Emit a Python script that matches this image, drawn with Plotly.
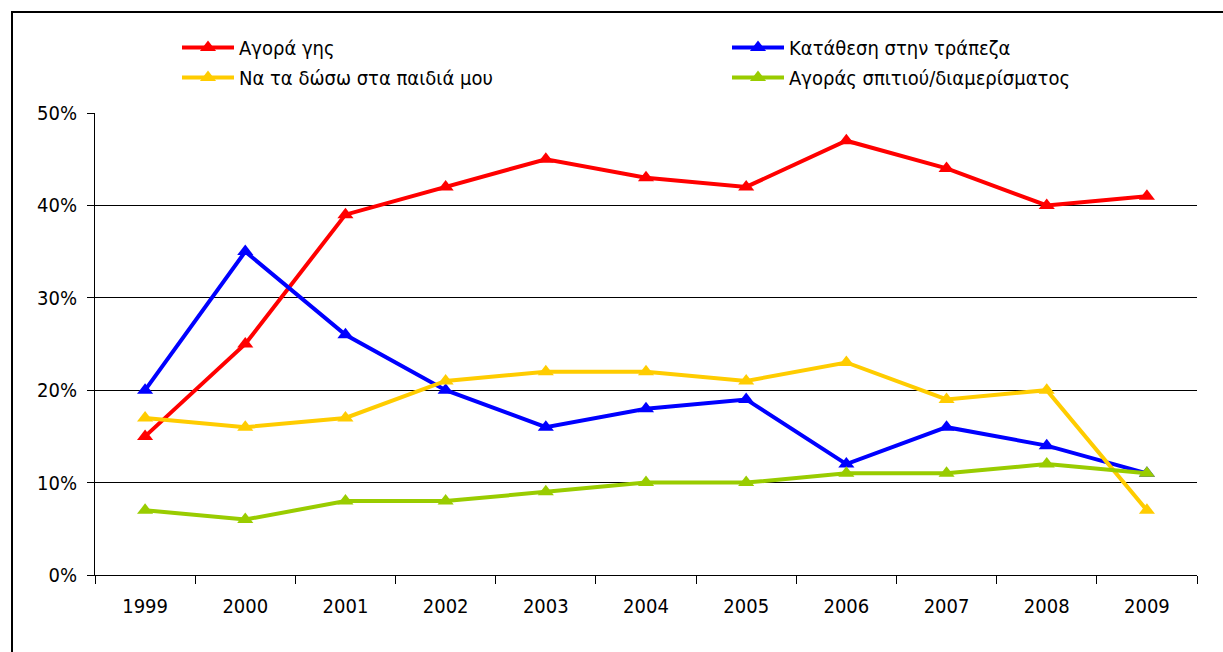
import plotly.graph_objects as go

years = ["1999", "2000", "2001", "2002", "2003", "2004", "2005", "2006", "2007", "2008", "2009"]

land = [15, 25, 39, 42, 45, 43, 42, 47, 44, 40, 41]
bank = [20, 35, 26, 20, 16, 18, 19, 12, 16, 14, 11]
children = [17, 16, 17, 21, 22, 22, 21, 23, 19, 20, 7]
house = [7, 6, 8, 8, 9, 10, 10, 11, 11, 12, 11]

series = [
    ("Αγορά γης", land, "#FF0000", "legend"),
    ("Κατάθεση στην τράπεζα", bank, "#0000FF", "legend2"),
    ("Να τα δώσω στα παιδιά μου", children, "#FFCC00", "legend"),
    ("Αγοράς σπιτιού/διαμερίσματος", house, "#99CC00", "legend2"),
]

fig = go.Figure()
for name, vals, color, leg in series:
    fig.add_trace(go.Scatter(
        x=years, y=[v / 100 for v in vals], name=name, mode="lines+markers",
        line=dict(color=color, width=4),
        marker=dict(symbol="triangle-up", size=14, color=color),
        legend=leg, legendgroup=name,
    ))

font = dict(family="DejaVu Sans Condensed, DejaVu Sans", size=20, color="black")
leg_style = dict(orientation="v", yanchor="top", xanchor="left", bgcolor="rgba(0,0,0,0)",
                 font=font, itemwidth=52, tracegroupgap=1, itemclick=False)

fig.update_layout(
    width=1223, height=652,
    margin=dict(l=95, r=26, t=113, b=77),
    paper_bgcolor="white", plot_bgcolor="white",
    font=font,
    showlegend=True,
    legend=dict(x=(177 - 95) / 1102, y=(575 - 28) / 462, **leg_style),
    legend2=dict(x=(727 - 95) / 1102, y=(575 - 28) / 462, **leg_style),
    xaxis=dict(
        type="category", range=[-0.5, 10.5], tickson="boundaries",
        ticks="outside", ticklen=8, tickcolor="black", tickwidth=1,
        showline=True, linecolor="black", linewidth=1, showgrid=False,
        ticklabelstandoff=13, tickfont=font,
    ),
    yaxis=dict(
        range=[0, 0.5], dtick=0.1, tickformat=".0%",
        ticks="outside", ticklen=7, tickcolor="black", tickwidth=1,
        showline=True, linecolor="black", linewidth=1,
        showgrid=True, gridcolor="black", gridwidth=1, zeroline=False,
        ticklabelstandoff=6, tickfont=font,
    ),
    shapes=[dict(
        type="rect", xref="paper", yref="paper",
        x0=(12 - 95) / 1102, x1=1.05, y0=-0.3, y1=(575 - 12) / 462,
        line=dict(color="black", width=2), fillcolor="rgba(0,0,0,0)", layer="below",
    )],
)

fig.write_html("out.html", config={"displayModeBar": False},
               post_script="document.body.style.margin='0';")
